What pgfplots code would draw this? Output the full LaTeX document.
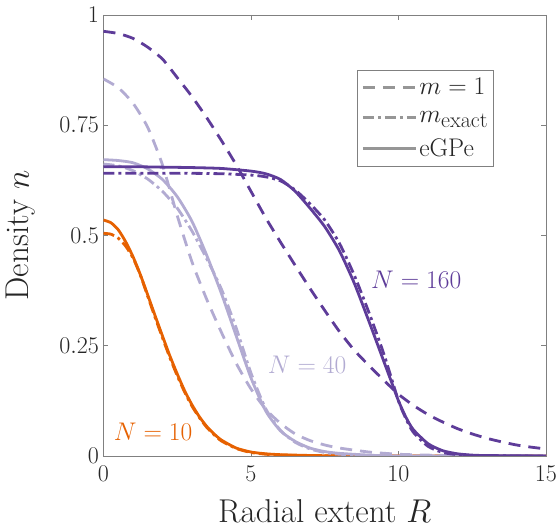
\RequirePackage{fix-cm}
\documentclass[border=0pt]{standalone}
\usepackage{pgfplots}
\pgfplotsset{compat=1.18}
\definecolor{cOr}{RGB}{230,97,1}
\definecolor{cLi}{RGB}{178,171,210}
\definecolor{cDk}{RGB}{94,60,153}
\definecolor{axgray}{RGB}{128,128,128}
\definecolor{leggray}{RGB}{150,150,150}
\definecolor{txt}{RGB}{38,38,38}
\newcommand{\tfont}{\fontsize{24}{26}\selectfont}
\newcommand{\lfont}{\fontsize{33}{36}\selectfont}
\newcommand{\nfont}{\fontsize{25.5}{27}\selectfont}
\tikzset{
  dsh/.style={dash pattern=on 12pt off 8pt},
  dshdot/.style={dash pattern=on 11pt off 4pt on 3pt off 4pt},
}
\begin{document}
\begin{tikzpicture}
\begin{axis}[
  name=ax,
  scale only axis,
  width=442.5pt, height=441pt,
  xmin=0, xmax=15, ymin=0, ymax=1,
  xtick={0,5,10,15},
  ytick={0,0.25,0.5,0.75,1},
  tick align=inside,
  major tick length=5pt,
  axis line style={axgray, line width=0.9pt},
  every tick/.style={axgray, line width=0.9pt},
  tick label style={font=\tfont, text=txt},
  xticklabel style={yshift=-6pt},
  yticklabel style={xshift=-1pt},
  xlabel={Radial extent $R$},
  ylabel={Density $n$},
  label style={font=\lfont, text=txt},
  xlabel style={at={(axis description cs:0.5,0)}, anchor=base, yshift=-67pt},
  ylabel style={at={(axis description cs:0,0.5)}, anchor=south, yshift=64.5pt},
  legend style={at={(rel axis cs:0.8825,0.875)}, anchor=north east, draw=axgray, line width=0.8pt,
    font=\nfont, text=txt, inner xsep=4pt, inner ysep=6pt, row sep=11pt,
    /tikz/every even column/.append style={column sep=0pt}},
  legend cell align=left,
  legend image code/.code={\draw[#1, line width=2.8pt] (0pt,0pt) -- (53pt,0pt);},
  every axis plot/.append style={line width=2.8pt, smooth, tension=0.4},
]
% legend entries
\addlegendimage{leggray, dsh}
\addlegendentry{$m=1$}
\addlegendimage{leggray, dshdot}
\addlegendentry{$m$\raisebox{-5.5pt}{\fontsize{22}{22}\selectfont exact}}
\addlegendimage{leggray, solid}
\addlegendentry{eGPe}

% N = 10
\addplot[cOr, solid, forget plot] coordinates {
(0,0.535) (0.25,0.529) (0.5,0.513) (0.75,0.486) (1.0,0.452) (1.25,0.411) (1.5,0.365)
(1.75,0.318) (2.0,0.272) (2.25,0.227) (2.5,0.186) (2.75,0.148) (3.0,0.116) (3.25,0.089)
(3.5,0.067) (3.75,0.050) (4.0,0.036) (4.5,0.018) (5.0,0.009) (5.5,0.005) (6.0,0.003)
(7.0,0.0012) (8.0,0.0004) (10,0.0001) (15,0)};
\addplot[cOr, dshdot, forget plot] coordinates {
(0,0.505) (0.25,0.503) (0.5,0.494) (0.75,0.476) (1.0,0.449) (1.25,0.410) (1.5,0.362)
(1.75,0.314) (2.0,0.268) (2.25,0.223) (2.5,0.182) (2.75,0.145) (3.0,0.113) (3.25,0.087)
(3.5,0.065) (3.75,0.048) (4.0,0.034) (4.5,0.017) (5.0,0.008) (5.5,0.004) (6.0,0.002)
(7.0,0.0008) (8.0,0.0003) (10,0.0001) (15,0)};

% N = 40
\addplot[cLi, dsh, forget plot] coordinates {
(0,0.855) (0.5,0.835) (1.0,0.800) (1.5,0.745) (2.0,0.660) (2.5,0.545) (3.0,0.440)
(3.5,0.355) (4.0,0.280) (4.5,0.210) (5.0,0.152) (5.5,0.106) (6.0,0.074) (6.5,0.050)
(7.0,0.035) (7.5,0.025) (8.0,0.018) (9.0,0.009) (10.0,0.004) (11.0,0.002) (12.0,0.001) (15,0)};
\addplot[cLi, dshdot, forget plot] coordinates {
(0,0.662) (0.5,0.658) (1.0,0.647) (1.5,0.628) (2.0,0.600) (2.5,0.562) (3.0,0.510)
(3.5,0.447) (4.0,0.378) (4.5,0.290) (5.0,0.188) (5.5,0.107) (6.0,0.058) (6.5,0.031)
(7.0,0.016) (7.5,0.008) (8.0,0.004) (9.0,0.001) (10,0) (15,0)};
\addplot[cLi, solid, forget plot] coordinates {
(0,0.672) (0.5,0.670) (1.0,0.665) (1.5,0.651) (2.0,0.627) (2.5,0.588) (3.0,0.532)
(3.5,0.455) (4.0,0.368) (4.5,0.272) (5.0,0.177) (5.5,0.102) (6.0,0.057) (6.5,0.033)
(7.0,0.018) (7.5,0.010) (8.0,0.006) (9.0,0.002) (10,0) (15,0)};

% N = 160
\addplot[cDk, dsh, forget plot] coordinates {
(0,0.963) (0.5,0.958) (1.0,0.947) (1.5,0.927) (2.0,0.900) (2.5,0.858) (3.0,0.815)
(3.5,0.767) (4.0,0.715) (4.5,0.660) (5.0,0.600) (5.5,0.540) (6.0,0.485) (6.5,0.432)
(7.0,0.380) (7.5,0.330) (8.0,0.282) (8.5,0.240) (9.0,0.205) (9.5,0.172) (10.0,0.140)
(10.5,0.115) (11.0,0.094) (11.5,0.077) (12.0,0.062) (12.5,0.050) (13.0,0.040)
(13.5,0.032) (14.0,0.025) (14.5,0.020) (15.0,0.016)};
\addplot[cDk, dshdot, forget plot] coordinates {
(0,0.641) (1,0.641) (2,0.641) (3,0.641) (4,0.640) (5,0.637) (5.5,0.633) (6.0,0.624)
(6.5,0.603) (7.0,0.572) (7.5,0.535) (8.0,0.482) (8.5,0.410) (9.0,0.325) (9.5,0.232)
(10.0,0.125) (10.25,0.085) (10.5,0.054) (11.0,0.022) (11.5,0.008) (12.0,0.003)
(12.5,0.001) (13,0.0004) (15,0)};
\addplot[cDk, solid, forget plot] coordinates {
(0,0.656) (1,0.656) (2,0.655) (3,0.654) (4,0.652) (5,0.646) (5.5,0.640) (6.0,0.627)
(6.5,0.600) (7.0,0.562) (7.5,0.520) (8.0,0.465) (8.5,0.392) (9.0,0.305) (9.5,0.215)
(9.75,0.170) (10.0,0.125) (10.25,0.088) (10.5,0.060) (11.0,0.028) (11.5,0.012)
(12.0,0.005) (12.5,0.002) (13,0.001) (15,0)};

\node[text=cOr, font=\nfont] at (axis cs:1.68,0.054) {$N = 10$};
\node[text=cLi, font=\nfont] at (axis cs:6.9,0.206) {$N = 40$};
\node[text=cDk, font=\nfont] at (axis cs:10.6,0.40) {$N = 160$};
\end{axis}
\pgfresetboundingbox
\useasboundingbox ([shift={(-103.5pt,-76pt)}]ax.south west) rectangle ([shift={(11pt,15pt)}]ax.north east);
\end{tikzpicture}
\end{document}
